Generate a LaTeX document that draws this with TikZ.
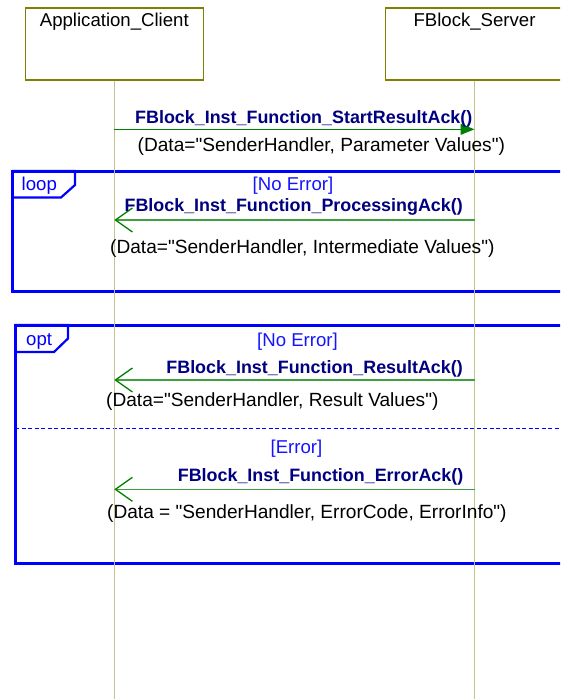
\documentclass[tikz,border=0pt]{standalone}
\usepackage{fontspec}
\setmainfont{Liberation Sans}[Ligatures=TeXOff]
\usetikzlibrary{arrows.meta}
\definecolor{lifeol}{RGB}{196,196,140}
\definecolor{boxol}{RGB}{128,128,0}
\definecolor{msgnavy}{RGB}{0,0,128}
\definecolor{msggreen}{RGB}{0,128,0}
\definecolor{framebl}{RGB}{0,0,255}
\definecolor{guardbl}{RGB}{20,20,255}
\begin{document}
\begin{tikzpicture}[x=1pt,y=-1pt,
  actor/.style={draw=boxol, line width=1.5pt, fill=white, minimum width=178pt,
    minimum height=72pt, inner sep=0pt},
  plaintext/.style={font=\fontsize{18.6}{21}\selectfont, inner sep=0pt},
  actorname/.style={plaintext, anchor=base},
  guard/.style={plaintext, text=guardbl, anchor=base},
  datalabel/.style={font=\fontsize{19.1}{21}\selectfont, inner sep=0pt, anchor=base west},
  msglabel/.style={font=\fontsize{17.9}{21}\selectfont\bfseries, text=msgnavy, inner sep=0pt},
  lifeline/.style={draw=lifeol, line width=1.5pt},
  callmsg/.style={draw=msggreen, line width=1.2pt, -{Triangle[length=14pt,width=11pt]}},
  replymsg/.style={draw=msggreen!75!white, line width=1.2pt,
    -{Straight Barb[length=17pt,width=24pt,line width=1.3pt,color=msggreen]}},
  frame/.style={draw=framebl, line width=3pt},
  fragtag/.style={draw=framebl, line width=2.2pt, line join=miter},
  fragname/.style={plaintext, text=framebl, anchor=base west},
  separator/.style={draw=framebl, line width=1pt, dash pattern=on 4pt off 2.5pt}
]
\useasboundingbox (0,0) rectangle (560,699);
\clip (0,0) rectangle (560,699);

% combined fragments
\draw[frame] (12,171) rectangle (575,291);
\draw[fragtag] (12,171) -- (75,171) -- (75,185) -- (61,197.5) -- (12,197.5);
\node[fragname] (looptag) at (21.5,190.5) {loop};

\draw[frame] (15,325) rectangle (575,563);
\draw[fragtag] (15,325) -- (68,325) -- (68,338.5) -- (54,352) -- (15,352);
\node[fragname] (opttag) at (26,345.5) {opt};
\coordinate (sepL) at (15,428.3);
\coordinate (sepR) at (575,428.3);
\draw[separator] (sepL) -- (sepR);

% participants and lifelines
\node[actor] (client) at (114.3,44) {};
\node[actor] (server) at (474.5,44) {};
\node[actorname] (clientname) at (114.3,26.7) {Application\_Client};
\node[actorname] (servername) at (474.5,26.7) {FBlock\_Server};
\coordinate (clientend) at (114.3,699);
\coordinate (serverend) at (474.5,699);
\draw[lifeline] (client.south) -- (clientend);
\draw[lifeline] (server.south) -- (serverend);

% message anchors on the lifelines
\coordinate (c1) at (114.3,129.3);  \coordinate (s1) at (474.5,129.3);
\coordinate (c2) at (114.3,220);    \coordinate (s2) at (474.5,220);
\coordinate (c3) at (114.3,380);    \coordinate (s3) at (474.5,380);
\coordinate (c4) at (114.3,489.3);  \coordinate (s4) at (474.5,489.3);

% request
\draw[callmsg] (c1) -- (s1);
\node[msglabel, anchor=base west] (m1) at (135,123.3) {FBlock\_Inst\_Function\_StartResultAck()};
\node[datalabel] (d1) at (137.5,151.7) {(Data="SenderHandler, Parameter Values")};

% loop: processing acknowledgements
\node[guard] (g1) at (293,190.7) {[No Error]};
\draw[replymsg] (s2) -- (c2);
\node[msglabel, anchor=base east] (m2) at (463,211.7) {FBlock\_Inst\_Function\_ProcessingAck()};
\node[datalabel] (d2) at (110,253.3) {(Data="SenderHandler, Intermediate Values")};

% opt: result or error
\node[guard] (g2) at (297.5,346) {[No Error]};
\draw[replymsg] (s3) -- (c3);
\node[msglabel, anchor=base east] (m3) at (463,373.3) {FBlock\_Inst\_Function\_ResultAck()};
\node[datalabel] (d3) at (106,406.7) {(Data="SenderHandler, Result Values")};

\node[guard] (g3) at (296.5,453) {[Error]};
\draw[replymsg] (s4) -- (c4);
\node[msglabel, anchor=base east] (m4) at (463.5,481.7) {FBlock\_Inst\_Function\_ErrorAck()};
\node[datalabel] (d4) at (107,518) {(Data = "SenderHandler, ErrorCode, ErrorInfo")};
\end{tikzpicture}
\end{document}
